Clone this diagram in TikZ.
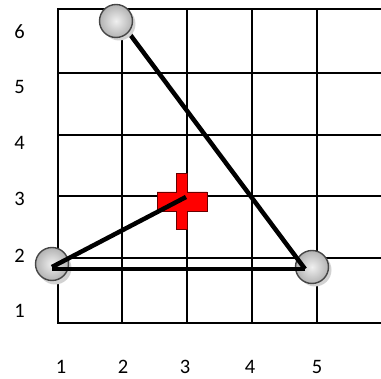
\documentclass[tikz,border=0pt]{standalone}
\usepackage{fontspec}
\setmainfont{Carlito}
\usetikzlibrary{calc}
\begin{document}
\begin{tikzpicture}[x=1pt,y=1pt,
  gridline/.style={line width=2pt,black},
  edge/.style={line width=4.5pt,black},
  ballnode/.style={circle,minimum size=33pt,inner sep=0pt,draw=gray!55!black,line width=1.4pt,
    shading=radial,inner color=gray!12,outer color=gray!60},
  ballshadow/.style={circle,minimum size=33pt,inner sep=0pt,fill=gray!35},
  lab/.style={font=\fontsize{20.5}{24}\selectfont,inner sep=0pt}]
\useasboundingbox (0,0) rectangle (381,379);
% grid
\foreach \x in {58,122,187,252,317} \draw[gridline] (\x,56) -- (\x,369.5);
\foreach \y in {369.5,306,244,183,121,56} \draw[gridline] (57,\y) -- (381,\y);
% labels
\node[lab] (y6) at (19.5,347) {6};
\node[lab] (y5) at (19.5,292) {5};
\node[lab] (y4) at (19.5,236) {4};
\node[lab] (y3) at (19.5,180) {3};
\node[lab] (y2) at (19.5,123) {2};
\node[lab] (y1) at (19.5,68) {1};
\node[lab] (x1) at (61,12) {1};
\node[lab] (x2) at (123,12) {2};
\node[lab] (x3) at (185,12) {3};
\node[lab] (x4) at (250,12) {4};
\node[lab] (x5) at (317,12) {5};
% red cross
\coordinate (X) at (182,177.5);
\filldraw[fill=red,draw=red!40!black,line width=0.8pt]
  ($(X)+(-5.5,28)$) -- ($(X)+(5.5,28)$) -- ($(X)+(5.5,9.5)$) -- ($(X)+(25,9.5)$) --
  ($(X)+(25,-9.5)$) -- ($(X)+(5.5,-9.5)$) -- ($(X)+(5.5,-28)$) -- ($(X)+(-5.5,-28)$) --
  ($(X)+(-5.5,-9.5)$) -- ($(X)+(-25,-9.5)$) -- ($(X)+(-25,9.5)$) -- ($(X)+(-5.5,9.5)$) -- cycle;
% balls B and C
\node[ballshadow] at (55,111) {};
\node[ballshadow] at (315,109) {};
\node[ballnode] (B) at (52,115) {};
\node[ballnode] (C) at (312,112) {};
% connector ends
\coordinate (pA) at (120,358);
\coordinate (pB) at (52,110);
\coordinate (pB2) at (52,112);
\coordinate (pC) at (305,110);
\coordinate (pX) at (186,182);
\draw[edge] (pB) -- (pC);
\draw[edge] (pA) -- (pC);
\draw[edge] (pB2) -- (pX);
% top ball
\node[ballshadow] at (119,355) {};
\node[ballnode] (A) at (116,358) {};
\end{tikzpicture}
\end{document}
